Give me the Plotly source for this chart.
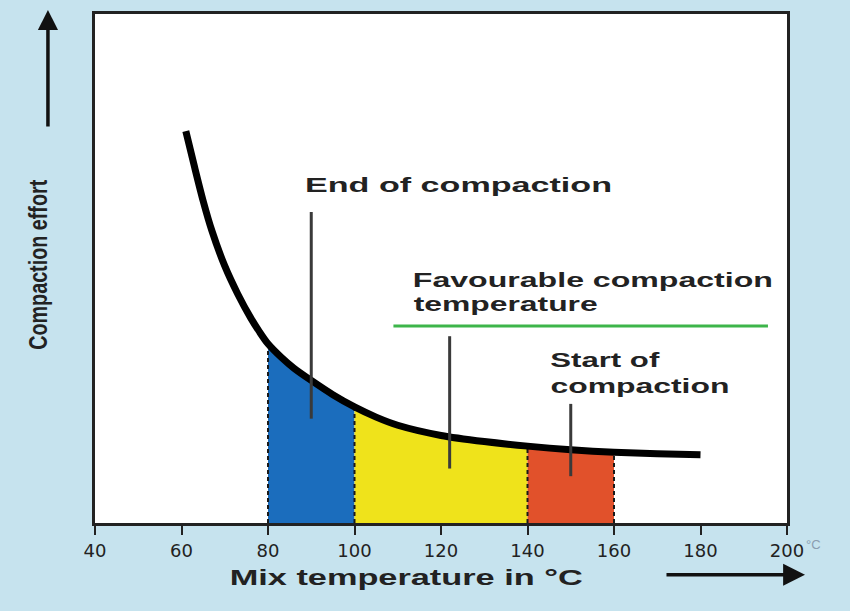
import json
import plotly.graph_objects as go

# Compaction effort curve versus mix temperature (relative effort, 0-100)
temp = [61, 63, 65, 67, 70, 73, 76, 78, 80, 83, 86, 90, 95, 100, 105, 110,
        120, 130, 140, 150, 160, 170, 180]
effort = [77.0, 70.0, 63.3, 57.5, 50.5, 45.0, 40.3, 37.6, 35.2, 32.6, 30.4, 28.0,
          25.2, 22.8, 20.8, 19.2, 17.2, 16.0, 15.1, 14.4, 13.9, 13.6, 13.4]

# Temperature bands under the curve
band_names = ["End of compaction zone", "Favourable zone", "Start of compaction zone"]
band_lo = [80, 100, 140]
band_hi = [100, 140, 160]
band_colors = ["#1b6dbd", "#efe31b", "#e1512b"]
band_edges = [80, 100, 140, 160]

x_ticks = [40, 60, 80, 100, 120, 140, 160, 180, 200]

# Pointer lines from the labels down to the bands
pointer_x = [90, 122, 150]
pointer_top = [61.1, 36.7, 23.4]
pointer_bottom = [20.5, 10.7, 9.2]

# Favourable compaction temperature bar
fav_x = [109, 195.6]
fav_y = 38.7

BG = "#c6e3ee"
INK = "#222222"
LABEL_FONT = dict(family="Liberation Sans", size=21, color=INK, weight="bold")

fig = go.Figure()

for name, lo, hi, col in zip(band_names, band_lo, band_hi, band_colors):
    xs = [t for t in temp if lo <= t <= hi]
    ys = [e for t, e in zip(temp, effort) if lo <= t <= hi]
    fig.add_trace(go.Scatter(
        x=xs, y=ys, mode="lines",
        line=dict(width=0, shape="spline", smoothing=0.8, color=col),
        fill="tozeroy", fillcolor=col, hoverinfo="skip", name=name))

# Dashed band edges
for edge in band_edges:
    top = effort[temp.index(edge)]
    fig.add_trace(go.Scatter(
        x=[edge, edge], y=[0, top], mode="lines",
        line=dict(color="#1a1a1a", width=2, dash="4px,3px"), hoverinfo="skip"))

fig.add_trace(go.Scatter(
    x=temp, y=effort, mode="lines",
    line=dict(color="#000000", width=7, shape="spline", smoothing=0.8),
    hoverinfo="skip"))

for px, y0, y1 in zip(pointer_x, pointer_top, pointer_bottom):
    fig.add_trace(go.Scatter(
        x=[px, px], y=[y0, y1], mode="lines",
        line=dict(color="#3a3a3a", width=3), hoverinfo="skip"))

fig.add_trace(go.Scatter(
    x=fav_x, y=[fav_y, fav_y], mode="lines",
    line=dict(color="#3db54a", width=3), hoverinfo="skip"))

# Labels: text, centre x, centre y, rendered width in px
labels = [
    ("End of compaction", 124.05, 66.6, 307),
    ("Favourable compaction", 155.1, 47.85, 360),
    ("temperature", 134.8, 43.16, 184),
    ("Start of", 158.0, 32.2, 109),
    ("compaction", 166.1, 26.95, 179),
]
text_widths = {}
for txt, lx, ly, w in labels:
    fig.add_annotation(x=lx, y=ly, text=txt, showarrow=False,
                       xanchor="center", yanchor="middle", font=LABEL_FONT)
    text_widths[txt] = w

# Axis titles and direction arrows
x_title = "Mix temperature in °C"
y_title = "Compaction effort"
text_widths[x_title] = 353
text_widths[y_title] = 170
fig.add_annotation(xref="paper", yref="paper", x=0.450, y=-0.1074,
                   text=x_title, showarrow=False,
                   xanchor="center", yanchor="middle",
                   font=dict(family="Liberation Sans", size=22, color=INK, weight="bold"))
fig.add_annotation(xref="paper", yref="paper", x=-0.0824, y=0.508,
                   text=y_title, showarrow=False, textangle=-90,
                   xanchor="center", yanchor="middle",
                   font=dict(family="Liberation Sans", size=25, color=INK, weight="bold"))
fig.add_annotation(xref="paper", yref="paper", x=1.039, y=-0.043,
                   text="°C", showarrow=False, xanchor="center", yanchor="middle",
                   font=dict(family="Liberation Sans", size=13, color="#8a9db0"))
fig.add_annotation(xref="paper", yref="paper", x=-0.068, y=1.008, text="",
                   showarrow=True, ax=0, ay=118, arrowhead=2, arrowsize=1.15,
                   arrowwidth=3.5, arrowcolor="#111111")
fig.add_annotation(xref="paper", yref="paper", x=1.026, y=-0.1016, text="",
                   showarrow=True, ax=-140, ay=0, arrowhead=2, arrowsize=1.25,
                   arrowwidth=3.5, arrowcolor="#111111")

fig.update_layout(
    width=850, height=611,
    margin=dict(l=95, r=63, t=11, b=88),
    paper_bgcolor=BG, plot_bgcolor="#ffffff",
    showlegend=False,
)
fig.update_xaxes(range=[40, 200], tickvals=x_ticks, ticktext=[str(t) for t in x_ticks],
                 ticks="outside", ticklen=9, tickwidth=2, tickcolor=INK,
                 showline=True, linewidth=3, linecolor=INK, mirror=True,
                 showgrid=False, zeroline=False,
                 tickfont=dict(family="DejaVu Sans", size=18, color=INK))
fig.update_yaxes(range=[0, 100], showticklabels=False, ticks="",
                 showline=True, linewidth=3, linecolor=INK, mirror=True,
                 showgrid=False, zeroline=False)

# Fit the bold labels to their set lengths
fit_js = """
var gd = document.getElementById('{plot_id}');
var widths = %s;
gd.querySelectorAll('text.annotation-text').forEach(function (t) {
  var w = widths[t.textContent];
  if (w) {
    t.setAttribute('textLength', w);
    t.setAttribute('lengthAdjust', 'spacingAndGlyphs');
  }
});
""" % json.dumps(text_widths)

fig.write_html("out.html", post_script=fit_js)
